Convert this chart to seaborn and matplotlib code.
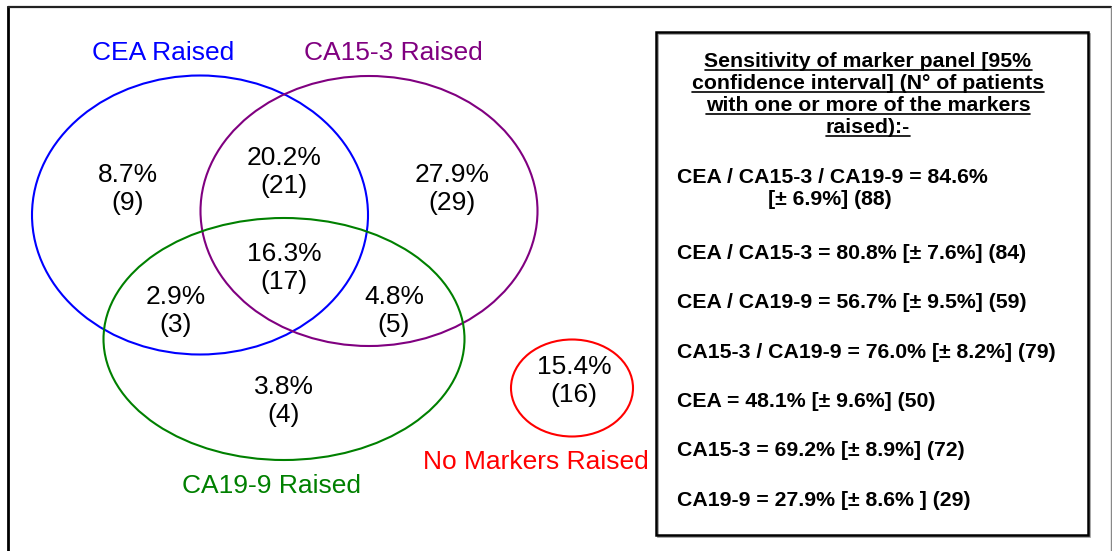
import matplotlib
matplotlib.use("Agg")
import matplotlib.pyplot as plt
from matplotlib.patches import Ellipse, Rectangle
import seaborn as sns

# Venn regions: share of patients and count
region_pct = [8.7, 20.2, 27.9, 16.3, 2.9, 4.8, 3.8, 15.4]
region_n = [9, 21, 29, 17, 3, 5, 4, 16]

# Set names and colours
set_names = ["CEA Raised", "CA15-3 Raised", "CA19-9 Raised", "No Markers Raised"]
set_colors = ["#0000FF", "#800080", "#008000", "#FF0000"]

# Sensitivity of marker panels
panel_names = ["CEA / CA15-3 / CA19-9", "CEA / CA15-3", "CEA / CA19-9",
               "CA15-3 / CA19-9", "CEA", "CA15-3", "CA19-9"]
panel_sens = [84.6, 80.8, 56.7, 76.0, 48.1, 69.2, 27.9]
panel_ci = [6.9, 7.6, 9.5, 8.2, 9.6, 8.9, 8.6]
panel_n = [88, 84, 59, 79, 50, 72, 29]

header_lines = ["Sensitivity of marker panel [95%",
                "confidence interval] (N\u00b0 of patients",
                "with one or more of the markers",
                "raised):-"]

sns.set_theme(style="white")
plt.rcParams["font.family"] = ["Liberation Sans", "DejaVu Sans"]

W, H = 1112, 551
BOX_FS = 15.3
fig = plt.figure(figsize=(W / 100, H / 100), dpi=100)
ax = fig.add_axes([0, 0, 1, 1])
ax.set_xlim(0, W)
ax.set_ylim(H, 0)
ax.axis("off")

# outer frame (no bottom edge visible)
ax.plot([8, 8], [7, H + 5], color="black", lw=2)
ax.plot([8, 1111], [7, 7], color="#222222", lw=1.6)
ax.plot([1111, 1111], [7, H + 5], color="#888888", lw=1)

# circles: (cx, cy, w, h)
shapes = [(200, 215, 336, 279), (369, 211, 337, 270),
          (284, 339, 361, 242), (572, 388, 122, 97)]
for (cx, cy, w, h), col in zip(shapes, set_colors):
    ax.add_patch(Ellipse((cx, cy), w, h, fill=False, edgecolor=col, lw=1.5))

# set labels
label_pos = [(163, 53), (393, 53), (271, 486), (536, 462)]
for name, col, (x, y) in zip(set_names, set_colors, label_pos):
    ax.text(x, y, name, color=col, fontsize=19, ha="center", va="center")

# region values
region_pos = [(128, 189), (284, 172), (452, 189), (284, 268),
              (176, 311), (394, 311), (284, 401), (574, 381)]
for p, n, (x, y) in zip(region_pct, region_n, region_pos):
    ax.text(x, y, f"{p:.1f}%\n({n})", color="black", fontsize=19,
            ha="center", va="center", linespacing=1.2)

# sensitivity box
ax.add_patch(Rectangle((658, 34), 432, 503, fill=False, edgecolor="#999999", lw=1.2))
ax.add_patch(Rectangle((656, 32), 432, 503, fill=False, edgecolor="black", lw=1.8))

header_texts = []
for i, line in enumerate(header_lines):
    t = ax.text(868, 67 + i * 22, line, fontsize=BOX_FS, fontweight="bold",
                ha="center", va="baseline", color="black")
    header_texts.append(t)

item_base = [259, 308, 358, 407, 456, 506]
for i, (nm, s, ci, n) in enumerate(zip(panel_names, panel_sens, panel_ci, panel_n)):
    if i == 0:
        ax.text(677, 183, f"{nm} = {s:.1f}%", fontsize=BOX_FS, fontweight="bold",
                ha="left", va="baseline", color="black")
        ax.text(768, 205, f"[\u00b1 {ci:.1f}%] ({n})", fontsize=BOX_FS, fontweight="bold",
                ha="left", va="baseline", color="black")
    else:
        close = "% ]" if nm == "CA19-9" else "%]"
        ax.text(677, item_base[i - 1], f"{nm} = {s:.1f}% [\u00b1 {ci:.1f}{close} ({n})",
                fontsize=BOX_FS, fontweight="bold", ha="left", va="baseline", color="black")

# underline the header lines
fig.canvas.draw()
renderer = fig.canvas.get_renderer()
inv = ax.transData.inverted()
for t in header_texts:
    bb = t.get_window_extent(renderer)
    x0, _ = inv.transform((bb.x0, 0))
    x1, _ = inv.transform((bb.x1, 0))
    y = t.get_position()[1] + 3
    ax.plot([x0, x1], [y, y], color="black", lw=1.2)

fig.savefig("out.png", dpi=100)
